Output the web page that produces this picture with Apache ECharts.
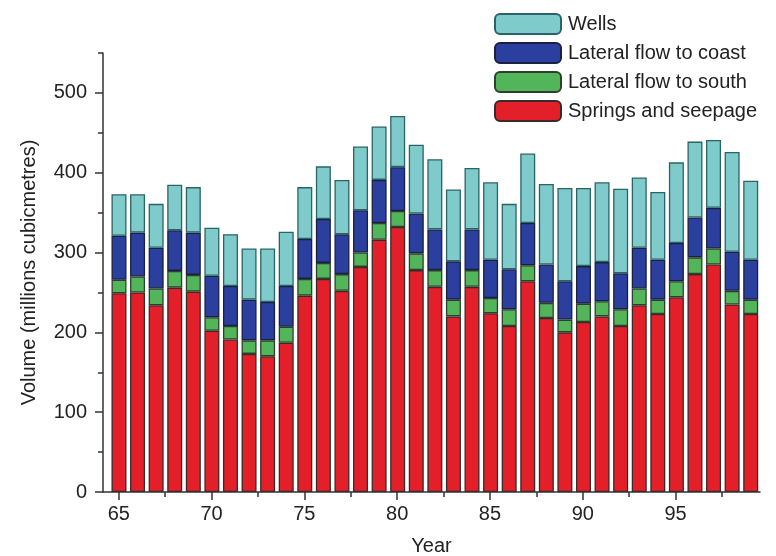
<!DOCTYPE html>
<html>
<head>
<meta charset="utf-8">
<script src="https://cdn.jsdelivr.net/npm/echarts@6/dist/echarts.min.js"></script>
<style>
html,body{margin:0;padding:0;background:#fff;}
#chart{width:776px;height:556px;}
</style>
</head>
<body>
<div id="chart"></div>
<script>
const years = [65,66,67,68,69,70,71,72,73,74,75,76,77,78,79,80,81,82,83,84,85,86,87,88,89,90,91,92,93,94,95,96,97,98,99];
const springs = [249,250,234,256,251,202,191,173,170,187,246,267,252,282,316,332,278,257,220,257,224,208,264,218,200,213,220,208,234,223,244,273,285,235,223];
const south   = [17,20,21,21,21,17,17,17,20,20,21,20,21,18,21,20,21,21,21,21,19,21,20,19,16,23,19,21,21,18,20,21,20,17,18];
const coast   = [55,55,51,51,53,52,50,51,48,51,50,55,50,53,54,55,50,51,48,51,48,50,53,48,48,47,49,45,51,50,48,50,51,49,50];
const wells   = [52,48,55,57,57,60,65,64,67,68,65,66,68,80,67,64,86,88,90,77,97,82,87,101,117,98,100,106,88,85,101,95,85,125,99];

const xMajorTicks = [65,70,75,80,85,90,95];
const xMinorTicks = [67.5,72.5,77.5,82.5,87.5,92.5,97.5];
const yMajorTicks = [0,100,200,300,400,500];
const yMinorTicks = [50,150,250,350,450,550];

const seriesNames = ['Springs and seepage','Lateral flow to south','Lateral flow to coast','Wells'];
const seriesValues = [springs, south, coast, wells];
const fills = ['#e3202a','#52b55a','#2b3f9f','#7fcaca'];
const borders = ['#3a2a2a','#2f3f2f','#1c2040','#2a6464'];

const font = '"Liberation Sans", Arial, sans-serif';
const txt = '#222';

const chart = echarts.init(document.getElementById('chart'), null, {renderer:'canvas'});
chart.setOption({
  animation:false,
  backgroundColor:'#fff',
  grid:[
    {left:103, right:16, top:53, bottom:64, containLabel:false, outerBoundsMode:'none'},
    {left:109.7, right:16, top:53, bottom:64, containLabel:false, outerBoundsMode:'none'}
  ],
  legend:{
    orient:'vertical', left:494, top:13, padding:0,
    itemWidth:66, itemHeight:20, itemGap:7,
    data:['Wells','Lateral flow to coast','Lateral flow to south','Springs and seepage'],
    textStyle:{fontFamily:font, fontSize:20, lineHeight:20, color:txt, padding:[0,0,0,2]}
  },
  xAxis:[{
    gridIndex:0, type:'value', min:64.15, max:99.55,
    name:'Year', nameLocation:'middle', nameGap:44,
    nameTextStyle:{fontFamily:font, fontSize:20, color:txt},
    axisLine:{show:true, lineStyle:{color:'#333', width:1.5}},
    axisTick:{show:true, customValues:xMajorTicks, length:8, lineStyle:{color:'#333', width:1.5}},
    axisLabel:{customValues:xMajorTicks, fontFamily:font, fontSize:20, color:txt, margin:12},
    splitLine:{show:false}
  },{
    gridIndex:0, type:'value', min:64.15, max:99.55, position:'bottom',
    axisLine:{show:false},
    axisTick:{show:true, customValues:xMinorTicks, length:5, lineStyle:{color:'#333', width:1.5}},
    axisLabel:{show:false},
    splitLine:{show:false}
  },{
    gridIndex:1, type:'category', data:years, boundaryGap:true, show:false
  }],
  yAxis:[{
    gridIndex:0, type:'value', min:0, max:550,
    name:'Volume (millions cubicmetres)', nameLocation:'middle', nameGap:64,
    nameTextStyle:{fontFamily:font, fontSize:20, color:txt},
    axisLine:{show:true, lineStyle:{color:'#333', width:1.5}},
    axisTick:{show:true, customValues:yMajorTicks, length:8, lineStyle:{color:'#333', width:1.5}},
    axisLabel:{customValues:yMajorTicks, fontFamily:font, fontSize:20, color:txt, margin:16},
    splitLine:{show:false}
  },{
    gridIndex:0, type:'value', min:0, max:550, position:'left',
    axisLine:{show:false},
    axisTick:{show:true, customValues:yMinorTicks, length:5, lineStyle:{color:'#333', width:1.5}},
    axisLabel:{show:false},
    splitLine:{show:false}
  },{
    gridIndex:1, type:'value', min:0, max:550, show:false
  }],
  series: seriesNames.map((n,i)=>({
    name:n, type:'bar', stack:'total', xAxisIndex:2, yAxisIndex:2,
    barWidth:15,
    itemStyle:{color:fills[i], borderColor:borders[i], borderWidth:1.3},
    data: seriesValues[i]
  }))
});
</script>
</body>
</html>
